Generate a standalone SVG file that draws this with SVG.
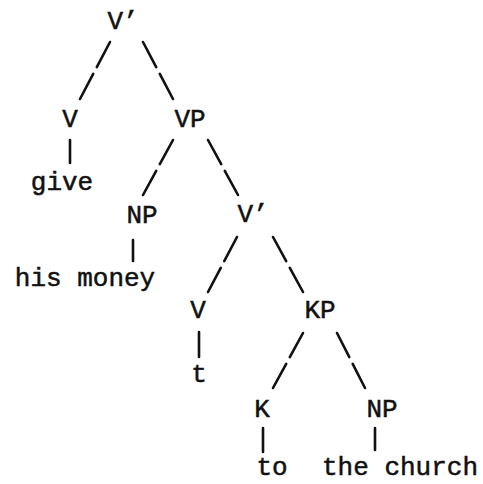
<svg xmlns="http://www.w3.org/2000/svg" width="483" height="484" viewBox="0 0 483 484">
<style>
text{font-family:"Liberation Mono","Courier New",monospace;font-size:26px;fill:#111;stroke:#111;stroke-width:0.5;text-anchor:middle}
.e{stroke:#111;stroke-width:2.6;fill:none;stroke-linecap:round}
.d{stroke-dasharray:44 12 44}
</style>
<rect width="483" height="484" fill="#fff"/>
<g id="connectors">
<line class="e d" pathLength="100" x1="110" y1="42" x2="80" y2="99"/>
<line class="e d" pathLength="100" x1="143" y1="42" x2="173" y2="99"/>
<line class="e" x1="70" y1="140" x2="70" y2="163"/>
<line class="e d" pathLength="100" x1="173" y1="140" x2="143" y2="195"/>
<line class="e d" pathLength="100" x1="208" y1="140" x2="238" y2="195"/>
<line class="e" x1="133" y1="240" x2="133" y2="261"/>
<line class="e d" pathLength="100" x1="237" y1="237" x2="208" y2="292"/>
<line class="e d" pathLength="100" x1="273" y1="237" x2="303" y2="292"/>
<line class="e" x1="199" y1="332" x2="199" y2="357"/>
<line class="e d" pathLength="100" x1="303" y1="333" x2="273" y2="388"/>
<line class="e d" pathLength="100" x1="337" y1="333" x2="365" y2="388"/>
<line class="e" x1="263" y1="428" x2="263" y2="452"/>
<line class="e" x1="375" y1="428" x2="375" y2="450"/>
</g>
<g id="n1"><text x="123" y="29">V’</text></g>
<g id="n2"><text x="70" y="127">V</text></g>
<g id="n3"><text x="190" y="127">VP</text></g>
<g id="n4"><text x="62" y="190">give</text></g>
<g id="n5"><text x="142" y="223">NP</text></g>
<g id="n6"><text x="85" y="286">his money</text></g>
<g id="n7"><text x="253" y="222">V’</text></g>
<g id="n8"><text x="198" y="318">V</text></g>
<g id="n9"><text x="320" y="318">KP</text></g>
<g id="n10"><text x="199" y="382">t</text></g>
<g id="n11"><text x="262" y="417">K</text></g>
<g id="n12"><text x="382" y="417">NP</text></g>
<g id="n13"><text x="272" y="475">to</text></g>
<g id="n14"><text x="400" y="475">the church</text></g>
</svg>
